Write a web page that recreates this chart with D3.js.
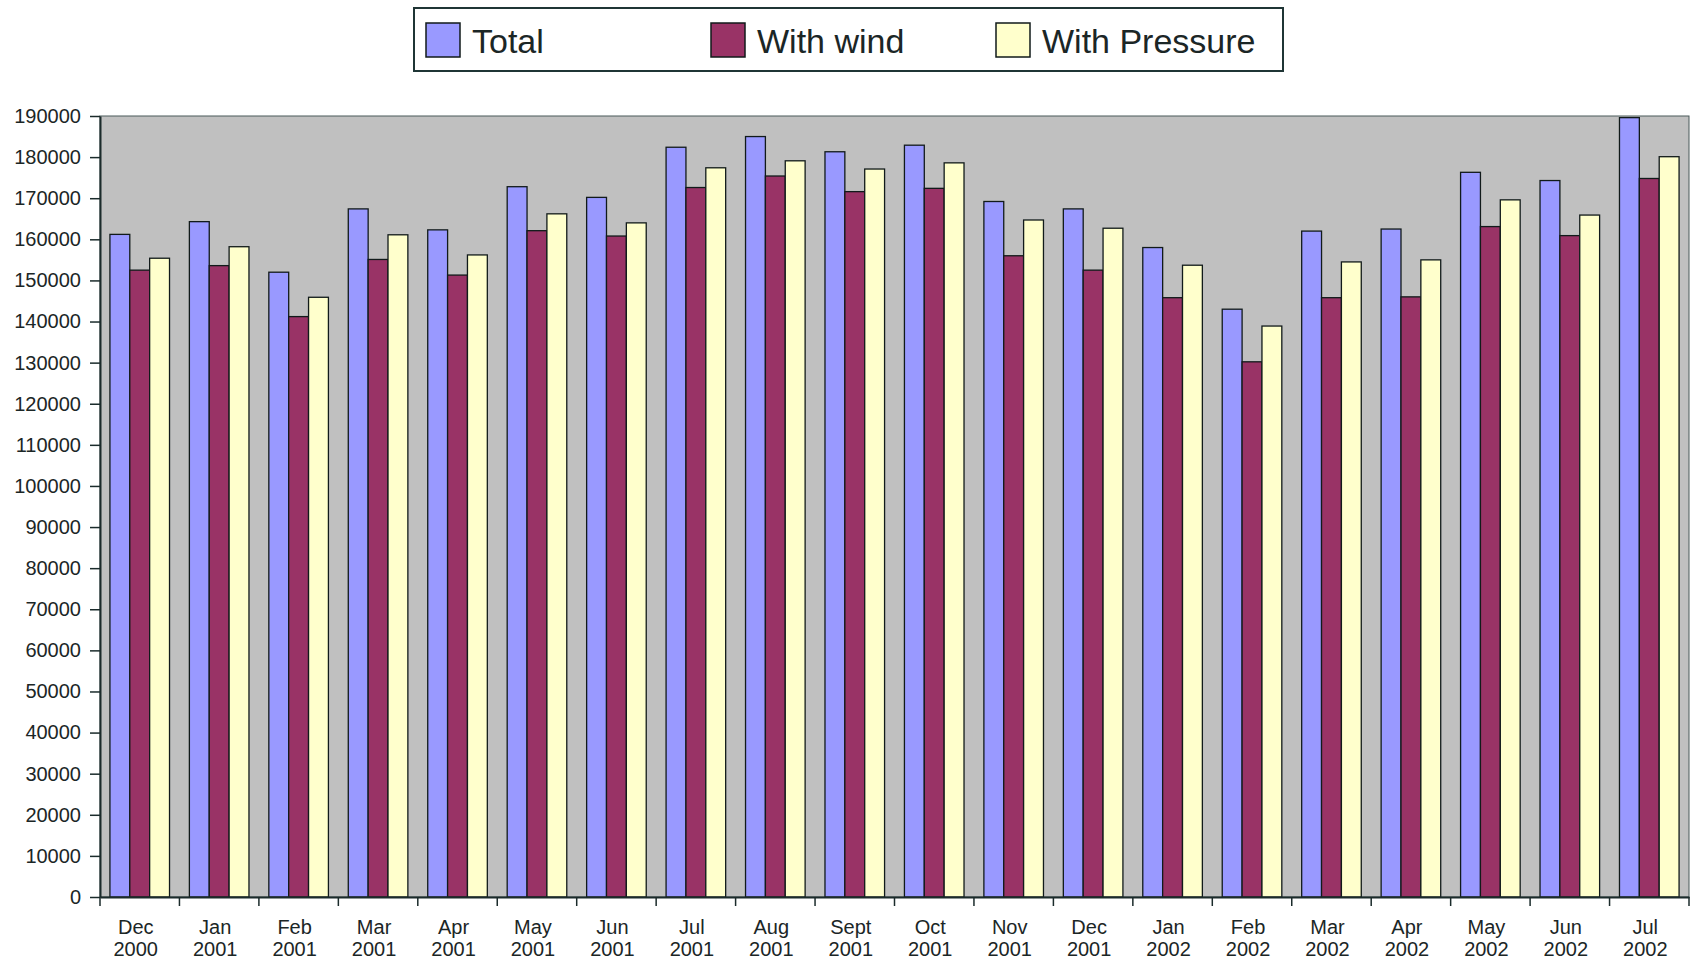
<!DOCTYPE html>
<html>
<head>
<meta charset="utf-8">
<script src="https://cdn.jsdelivr.net/npm/d3@7"></script>
<style>
  body { margin: 0; background: #fff; }
  svg text { font-family: "Liberation Sans", Arial, sans-serif; fill: #1b2626; }
</style>
</head>
<body>
<div id="chart"></div>
<script>
// months shown on the x axis (two lines each)
const months = [
  "Dec 2000", "Jan 2001", "Feb 2001", "Mar 2001", "Apr 2001", "May 2001", "Jun 2001",
  "Jul 2001", "Aug 2001", "Sept 2001", "Oct 2001", "Nov 2001", "Dec 2001", "Jan 2002",
  "Feb 2002", "Mar 2002", "Apr 2002", "May 2002", "Jun 2002", "Jul 2002"
];

const seriesNames = ["Total", "With wind", "With Pressure"];

const totalValues = [
  161200, 164300, 152000, 167400, 162300, 172800, 170200, 182400, 185000, 181300,
  182900, 169200, 167400, 158000, 143000, 162000, 162500, 176300, 174300, 189600
];
const windValues = [
  152500, 153600, 141200, 155100, 151300, 162100, 160800, 172600, 175400, 171600,
  172400, 156000, 152500, 145800, 130200, 145800, 146000, 163100, 160900, 174800
];
const pressureValues = [
  155400, 158200, 145900, 161100, 156200, 166200, 164000, 177400, 179100, 177100,
  178600, 164700, 162700, 153700, 138900, 154500, 155000, 169600, 165900, 180100
];

const yTicks = d3.range(0, 190001, 10000);

const colors = ["#9999ff", "#993366", "#ffffcc"];

const width = 1698, height = 962;
const margin = { top: 116, right: 9, bottom: 65, left: 100 };

function drawChart(parentID) {
  let svg = d3.select(`#${parentID}`)
    .append("svg")
    .attr("width", width)
    .attr("height", height);

  const rows = months.map((m, i) => ({
    month: m,
    values: [totalValues[i], windValues[i], pressureValues[i]]
  }));

  //scales
  let x = d3.scaleBand()
    .domain(months)
    .range([margin.left, width - margin.right])
    .paddingInner(0)
    .paddingOuter(0);

  let xSub = d3.scaleBand()
    .domain(d3.range(seriesNames.length))
    .range([x.bandwidth() * 0.125, x.bandwidth() * 0.875]);

  let y = d3.scaleLinear()
    .domain([0, 190000])
    .range([height - margin.bottom, margin.top]);

  //plot background
  svg.append("rect")
    .attr("x", margin.left)
    .attr("y", margin.top)
    .attr("width", width - margin.right - margin.left)
    .attr("height", height - margin.bottom - margin.top)
    .attr("fill", "#c0c0c0")
    .attr("stroke", "#4a5a5a")
    .attr("stroke-width", 1);

  //bars
  let groups = svg.append("g").selectAll("g")
    .data(rows)
    .join("g")
    .attr("transform", d => `translate(${x(d.month)},0)`);

  groups.selectAll("rect")
    .data(d => d.values.map((v, k) => ({ k, v })))
    .join("rect")
    .attr("x", d => xSub(d.k))
    .attr("width", xSub.bandwidth())
    .attr("y", d => y(d.v))
    .attr("height", d => y(0) - y(d.v))
    .attr("fill", d => colors[d.k])
    .attr("stroke", "#111a1a")
    .attr("stroke-width", 1.3);

  //y axis
  let yAxis = svg.append("g")
    .attr("transform", `translate(${margin.left},0)`)
    .call(d3.axisLeft(y).tickValues(yTicks).tickFormat(d3.format("d")).tickSize(10).tickSizeOuter(0).tickPadding(9));
  yAxis.selectAll("text").style("font-size", "20px");
  yAxis.selectAll("line").attr("stroke", "#1b2b2b").attr("stroke-width", 1.5);
  yAxis.select(".domain").attr("stroke", "#1b2b2b").attr("stroke-width", 2);

  //x axis: labels centred on bands, ticks on band edges
  let xAxis = svg.append("g")
    .attr("transform", `translate(0,${y(0)})`)
    .call(d3.axisBottom(x).tickSize(0).tickSizeOuter(0).tickPadding(0));
  xAxis.select(".domain").attr("stroke", "#1b2b2b").attr("stroke-width", 2);
  xAxis.selectAll(".tick text")
    .style("font-size", "20px")
    .attr("dy", null)
    .attr("y", 0)
    .text(null)
    .selectAll("tspan")
    .data(d => d.split(" "))
    .join("tspan")
    .attr("x", -4)
    .attr("y", (d, i) => 37 + i * 22)
    .text(d => d);

  xAxis.selectAll(".edgeTick")
    .data(months.map(m => x(m)).concat([x.range()[1]]))
    .join("line")
    .attr("class", "edgeTick")
    .attr("x1", d => d).attr("x2", d => d)
    .attr("y1", 0).attr("y2", 9)
    .attr("stroke", "#1b2b2b")
    .attr("stroke-width", 1.5);

  //legend
  let legend = svg.append("g");
  legend.append("rect")
    .attr("x", 414).attr("y", 8)
    .attr("width", 869).attr("height", 63)
    .attr("fill", "#fff")
    .attr("stroke", "#1f3535")
    .attr("stroke-width", 2);

  let items = legend.selectAll("g")
    .data(seriesNames)
    .join("g")
    .attr("transform", (d, i) => `translate(${426 + i * 285},23)`);

  items.append("rect")
    .attr("width", 34).attr("height", 34)
    .attr("fill", (d, i) => colors[i])
    .attr("stroke", "#111a1a")
    .attr("stroke-width", 1.5);

  items.append("text")
    .attr("x", 46)
    .attr("y", 30)
    .style("font-size", "34px")
    .text(d => d);
}

drawChart("chart");
</script>
</body>
</html>
